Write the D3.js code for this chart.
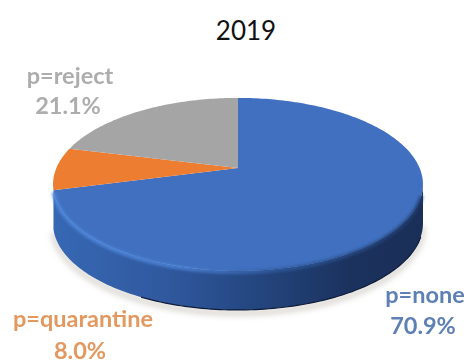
<!DOCTYPE html>
<html>
<head>
<meta charset="utf-8">
<script src="https://d3js.org/d3.v7.min.js"></script>
<style>
html,body{margin:0;padding:0;background:#fff;}
svg{display:block;}
text{font-family:Lato,"Open Sans",sans-serif;text-anchor:middle;}
</style>
</head>
<body>
<div id="main"></div>
<script>
const categories = ["p=none", "p=quarantine", "p=reject"];
const shares = [70.9, 8.0, 21.1];
const shareLabels = ["70.9%", "8.0%", "21.1%"];
const colors = ["#4070bf", "#ed7d31", "#a5a5a5"];
const labelColors = ["#5f80b5", "#e2985f", "#adadad"];
const labelPos = [[425, 296, 423, 326], [83, 320, 80, 351], [70, 77, 68, 106]];
const chartTitle = "2019";

const ctx = {
    width: 473,
    height: 364,
    cx: 238,
    cy: 168,
    radius: 181.6,
    squash: 83.4,
    tilt: 0.19,
    depth: 39
};

// perspective of the pie plate: angle clockwise from the top -> screen point
function project(a, dy) {
    let u = Math.sin(a), v = Math.cos(a);
    let d = 1 + ctx.tilt * v;
    return [ctx.cx + ctx.radius * u / d, ctx.cy - ctx.squash * v / d + (dy || 0)];
}

function rim(a0, a1, dy) {
    let n = Math.max(2, Math.ceil(Math.abs(a1 - a0) / 0.02));
    return d3.range(n + 1).map(i => project(a0 + (a1 - a0) * i / n, dy));
}

const line = d3.line();

function createViz() {
    let svg = d3.select("#main").append("svg")
        .attr("width", ctx.width)
        .attr("height", ctx.height);

    let defs = svg.append("defs");
    let blur = (id, s) => defs.append("filter").attr("id", id)
        .attr("x", "-20%").attr("y", "-20%").attr("width", "140%").attr("height", "140%")
        .append("feGaussianBlur").attr("stdDeviation", s);
    blur("soft", 0.45);
    blur("shadow", 3);
    blur("bevel", 1.6);

    let side = defs.append("linearGradient").attr("id", "side")
        .attr("gradientUnits", "userSpaceOnUse")
        .attr("x1", 53).attr("x2", 423).attr("y1", 0).attr("y2", 0);
    side.append("stop").attr("offset", "0").attr("stop-color", "#3768b4");
    side.append("stop").attr("offset", "0.3").attr("stop-color", "#30599f");
    side.append("stop").attr("offset", "0.55").attr("stop-color", "#24467f");
    side.append("stop").attr("offset", "0.8").attr("stop-color", "#1b325e");
    side.append("stop").attr("offset", "1").attr("stop-color", "#1a2f57");

    let bevel = defs.append("linearGradient").attr("id", "bevelLine")
        .attr("gradientUnits", "userSpaceOnUse")
        .attr("x1", 53).attr("x2", 423).attr("y1", 0).attr("y2", 0);
    bevel.append("stop").attr("offset", "0").attr("stop-color", "#4f88dc");
    bevel.append("stop").attr("offset", "0.35").attr("stop-color", "#4c82d6");
    bevel.append("stop").attr("offset", "0.6").attr("stop-color", "#2f5a9e");
    bevel.append("stop").attr("offset", "1").attr("stop-color", "#1f3a6c");

    let arcs = d3.pie().sort(null)(shares);
    let blue = arcs[0];
    let right = Math.PI - Math.acos(ctx.tilt); // silhouette on the right side
    let front = rim(right, blue.endAngle, 0);
    let frontLow = rim(right, blue.endAngle, ctx.depth);

    // shadow under the plate
    svg.append("path")
        .attr("d", line(frontLow))
        .attr("transform", "translate(0,3)")
        .attr("fill", "none")
        .attr("stroke", "#c9c5bd")
        .attr("stroke-width", 4)
        .attr("filter", "url(#shadow)");

    // side wall of the big slice, the others are turned away
    svg.append("path")
        .attr("d", line(front.concat(frontLow.slice().reverse())) + "Z")
        .attr("fill", "url(#side)");

    svg.append("path")
        .attr("d", line(rim(right + 0.15, 3.6, ctx.depth)))
        .attr("fill", "none")
        .attr("stroke", "#0e1c3a")
        .attr("stroke-width", 1.2);

    // top of the slices
    svg.append("g").selectAll("path")
        .data(arcs)
        .enter().append("path")
        .attr("d", d => line([[ctx.cx, ctx.cy]].concat(rim(d.startAngle, d.endAngle, 0))) + "Z")
        .attr("fill", (d, i) => colors[i]);

    // bevel along the front edge
    svg.append("path")
        .attr("d", line(rim(right + 0.12, blue.endAngle - 0.01, 1)))
        .attr("fill", "none")
        .attr("stroke", "url(#bevelLine)")
        .attr("stroke-width", 3.5)
        .attr("filter", "url(#bevel)");

    svg.append("text")
        .attr("x", 246).attr("y", 40)
        .attr("font-size", 26)
        .attr("fill", "#111")
        .text(chartTitle);

    let labels = svg.append("g").attr("filter", "url(#soft)");
    categories.forEach((c, i) => {
        let p = labelPos[i];
        labels.append("text").attr("x", p[0]).attr("y", p[1] + 7)
            .attr("font-size", 23.5).attr("font-weight", "bold")
            .attr("fill", labelColors[i]).text(c);
        labels.append("text").attr("x", p[2]).attr("y", p[3] + 8)
            .attr("font-size", 23.5).attr("font-weight", "bold")
            .attr("fill", labelColors[i]).text(shareLabels[i]);
    });
}

createViz();
</script>
</body>
</html>
